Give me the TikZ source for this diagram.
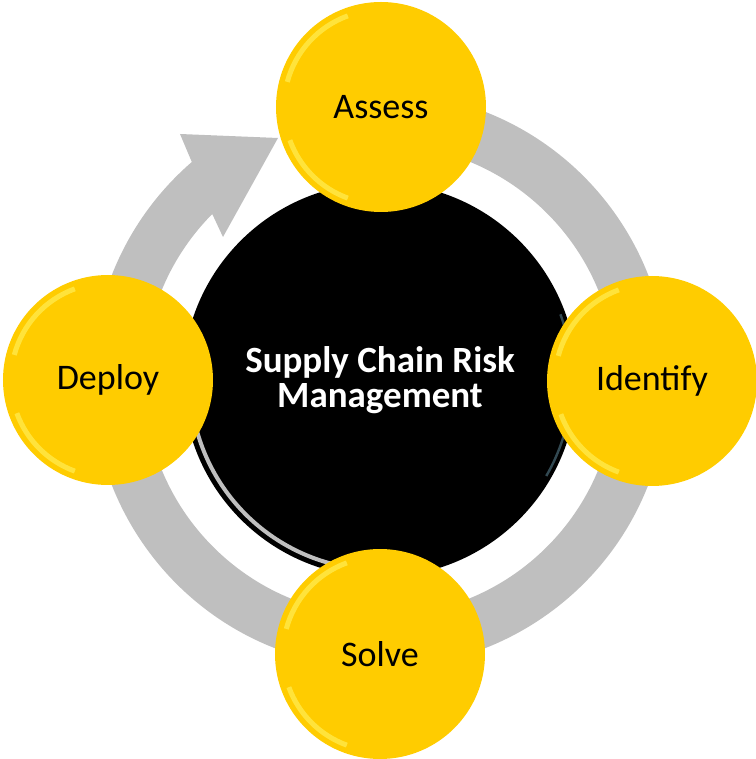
\documentclass[tikz,border=0pt]{standalone}
\usepackage{fontspec}
\setmainfont{Carlito}
\definecolor{discyellow}{HTML}{FFCC00}
\definecolor{discglint}{HTML}{FFEE55}
\definecolor{ringgrey}{HTML}{BFBFBF}
\tikzset{
    stepdisc/.style={circle, minimum size=105pt, inner sep=0pt, fill=discyellow,
        font=\fontsize{18}{17.5}\selectfont,
        path picture={
            \draw[discglint, line width=2.5pt, opacity=.7]
                ([shift={(110:97)}]path picture bounding box.center) arc[start angle=110, end angle=165, radius=97];
            \draw[discglint, line width=2.5pt, opacity=.7]
                ([shift={(200:97)}]path picture bounding box.center) arc[start angle=200, end angle=250, radius=97];
        }},
    hubdisc/.style={circle, minimum size=197pt, inner sep=0pt, fill=black, text=white, align=center,
        font=\bfseries\fontsize{18.5}{17.5}\selectfont,
        path picture={
            \draw[white, line width=2pt, opacity=.75]
                ([shift={(195:190)}]path picture bounding box.center) arc[start angle=195, end angle=268, radius=190];
            \draw[gray!60!cyan, line width=1.2pt, opacity=.45]
                ([shift={(-30:192)}]path picture bounding box.center) arc[start angle=-30, end angle=20, radius=192];
        }}
}
\begin{document}
\begin{tikzpicture}[x=0.5pt, y=0.5pt]
    \useasboundingbox (-380,-379) rectangle (375,380);
    \fill[ringgrey] (80:288) arc[start angle=80, end angle=-229.2, radius=288]
        -- (-200,246) -- (-102,242) -- (-157,143) -- (-224.7:236)
        arc[start angle=-224.7, end angle=80, radius=236] -- cycle;
    \node[hubdisc] (hub) at (0,0) {Supply Chain Risk\\Management};
    \node[stepdisc] (assess) at (1,273) {Assess};
    \node[stepdisc] (identify) at (272,-1) {Identify};
    \node[stepdisc] (solve) at (0,-274) {Solve};
    \node[stepdisc] (deploy) at (-272,0) {Deploy};
\end{tikzpicture}
\end{document}
